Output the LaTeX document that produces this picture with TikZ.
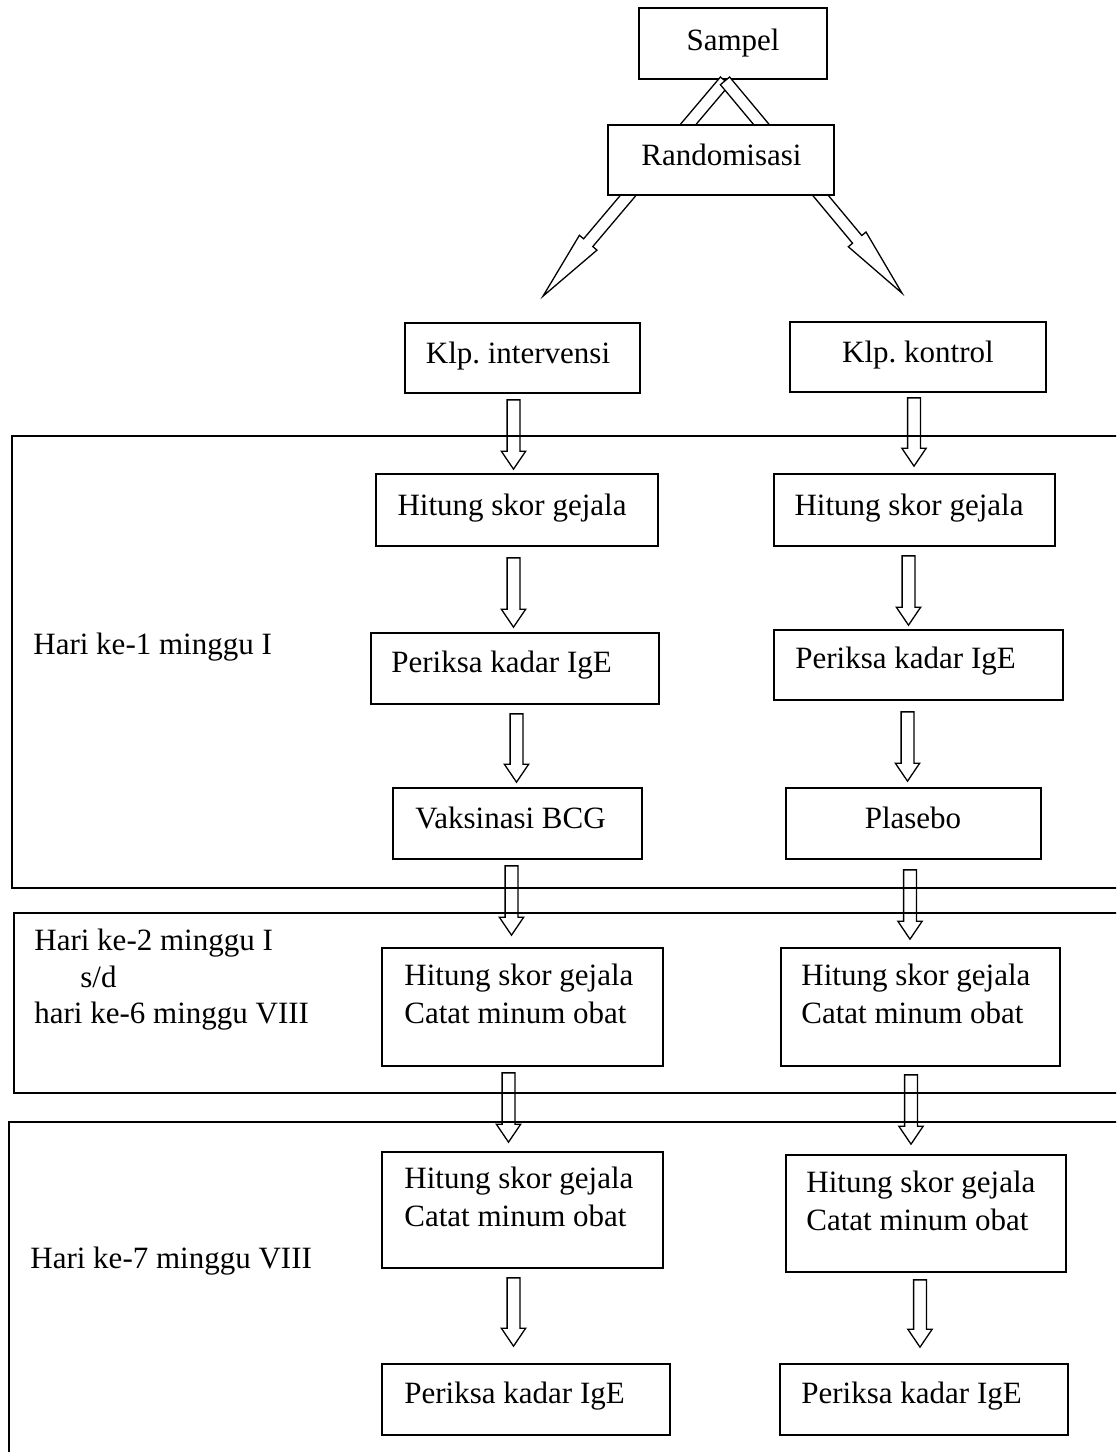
\documentclass[tikz,border=0pt]{standalone}
\usepackage{fontspec}
\setmainfont{Liberation Serif}
\frenchspacing
\usetikzlibrary{calc,fit}
\pgfdeclarelayer{arrowlayer}
\pgfsetlayers{arrowlayer,main}
% block (hollow) arrow: #1 start, #2 tip, #3 shaft half width, #4 head half width, #5 head length
\newcommand\blockarrow[5]{%
  \coordinate (bas) at #1;
  \coordinate (bae) at #2;
  \coordinate (bah) at ($(bae)!#5!(bas)$);
  \draw[arrowline] ($(bas)!#3!90:(bae)$) -- ($(bah)!#3!-90:(bas)$) -- ($(bah)!#4!-90:(bas)$)
     -- (bae) -- ($(bah)!#4!90:(bas)$) -- ($(bah)!#3!90:(bas)$) -- ($(bas)!#3!-90:(bae)$) -- cycle;}
\newcommand\varrow[2]{\blockarrow{#1}{#2}{3.2pt}{6.1pt}{9pt}}
\newcommand\darrow[2]{\blockarrow{#1}{#2}{3pt}{5.75pt}{35pt}}
\begin{document}
\begin{tikzpicture}[x=0.5pt,y=-0.5pt,
  box/.style={draw, line width=0.85pt, fill=white, inner sep=0pt},
  frame/.style={draw, line width=0.85pt},
  lbl/.style={inner sep=0pt, font=\fontsize{15.5pt}{19pt}\selectfont},
  arrowline/.style={draw, line width=0.65pt, fill=white, line join=miter}]
\useasboundingbox (0,0) rectangle (1116,1452);
\clip (0,0) rectangle (1116,1452);

% phase frames
\draw[frame] (12,436) rectangle (1140,888);
\draw[frame] (14,913) rectangle (1140,1093);
\draw[frame] (9,1122) rectangle (1140,1480);

% boxes
\begin{pgfonlayer}{arrowlayer}
\node[box, fit={(639,8) (827,79)}] (sampel) {};
\end{pgfonlayer}
\node[box, fit={(608,125) (834,195)}] (rand) {};
\node[box, fit={(405,323) (640,393)}] (kint) {};
\node[box, fit={(790,322) (1046,392)}] (kkon) {};
\node[box, fit={(376,474) (658,546)}] (hit1) {};
\node[box, fit={(774,474) (1055,546)}] (hit2) {};
\node[box, fit={(371,633) (659,704)}] (per1) {};
\node[box, fit={(774,630) (1063,700)}] (per2) {};
\node[box, fit={(393,788) (642,859)}] (vak) {};
\node[box, fit={(786,788) (1041,859)}] (pla) {};
\node[box, fit={(382,948) (663,1066)}] (hc1) {};
\node[box, fit={(781,948) (1060,1066)}] (hc2) {};
\node[box, fit={(382,1152) (663,1268)}] (hd1) {};
\node[box, fit={(786,1155) (1066,1272)}] (hd2) {};
\node[box, fit={(382,1364) (670,1435)}] (pk1) {};
\node[box, fit={(780,1364) (1068,1435)}] (pk2) {};

% texts
\node[lbl, anchor=base] (sampelT) at (733,50) {Sampel};
\node[lbl, anchor=base] (randT) at (721.5,165) {Randomisasi};
\node[lbl, anchor=base] (kintT) at (518,363) {Klp. intervensi};
\node[lbl, anchor=base] (kkonT) at (918,362) {Klp. kontrol};
\node[lbl, anchor=base] (hit1T) at (512,515) {Hitung skor gejala};
\node[lbl, anchor=base] (hit2T) at (909,515) {Hitung skor gejala};
\node[lbl, anchor=base west] (per1T) at (391,672) {Periksa kadar IgE};
\node[lbl, anchor=base west] (per2T) at (795,668) {Periksa kadar IgE};
\node[lbl, anchor=base] (vakT) at (510.5,828) {Vaksinasi BCG};
\node[lbl, anchor=base] (plaT) at (913,828) {Plasebo};
\node[lbl, anchor=base west] (hc1a) at (404,985) {Hitung skor gejala};
\node[lbl, anchor=base west] (hc1b) at (404,1023) {Catat minum obat};
\node[lbl, anchor=base west] (hc2a) at (801,985) {Hitung skor gejala};
\node[lbl, anchor=base west] (hc2b) at (801,1023) {Catat minum obat};
\node[lbl, anchor=base west] (hd1a) at (404,1188) {Hitung skor gejala};
\node[lbl, anchor=base west] (hd1b) at (404,1226) {Catat minum obat};
\node[lbl, anchor=base west] (hd2a) at (806,1192) {Hitung skor gejala};
\node[lbl, anchor=base west] (hd2b) at (806,1230) {Catat minum obat};
\node[lbl, anchor=base west] (pk1T) at (404,1403) {Periksa kadar IgE};
\node[lbl, anchor=base west] (pk2T) at (801,1403) {Periksa kadar IgE};

% phase labels
\node[lbl, anchor=base west] (ph1) at (33,654) {Hari ke-1 minggu I};
\node[lbl, anchor=base west] (ph2a) at (34,950) {Hari ke-2 minggu I};
\node[lbl, anchor=base west] (ph2b) at (80,987) {s/d};
\node[lbl, anchor=base west] (ph2c) at (34,1023) {hari ke-6 minggu VIII};
\node[lbl, anchor=base west] (ph3) at (30,1268) {Hari ke-7 minggu VIII};

% arrows (drawn below frames and boxes)
\begin{pgfonlayer}{arrowlayer}
\darrow{($(sampel.south)+(-8,1)$)}{($(kint.north)+(20.5,-26)$)}
\darrow{($(sampel.south)+(-8,1)$)}{($(kkon.north)+(-16,-28)$)}
\varrow{($(kint.south)+(-9,6)$)}{($(hit1.north)+(-3.5,-4)$)}
\varrow{($(kkon.south)+(-4,5)$)}{($(hit2.north)+(-0.5,-7)$)}
\varrow{($(hit1.south)+(-3.5,11)$)}{($(per1.north)+(-1.5,-5)$)}
\varrow{($(hit2.south)+(-6,9)$)}{($(per2.north)+(-10,-4)$)}
\varrow{($(per1.south)+(1.5,9)$)}{($(vak.north)+(-1,-5)$)}
\varrow{($(per2.south)+(-11,11)$)}{($(pla.north)+(-6,-6)$)}
\varrow{($(vak.south)+(-6,6)$)}{($(hc1.north)+(-11,-12)$)}
\varrow{($(pla.south)+(-3.5,10)$)}{($(hc2.north)+(-10.5,-8)$)}
\varrow{($(hc1.south)+(-14,6)$)}{($(hd1.north)+(-14,-9)$)}
\varrow{($(hc2.south)+(-9.5,8)$)}{($(hd2.north)+(-15,-10)$)}
\varrow{($(hd1.south)+(-9,9)$)}{($(pk1.north)+(-12.5,-17)$)}
\varrow{($(hd2.south)+(-6,7)$)}{($(pk2.north)+(-4,-16)$)}
\end{pgfonlayer}
\end{tikzpicture}
\end{document}
